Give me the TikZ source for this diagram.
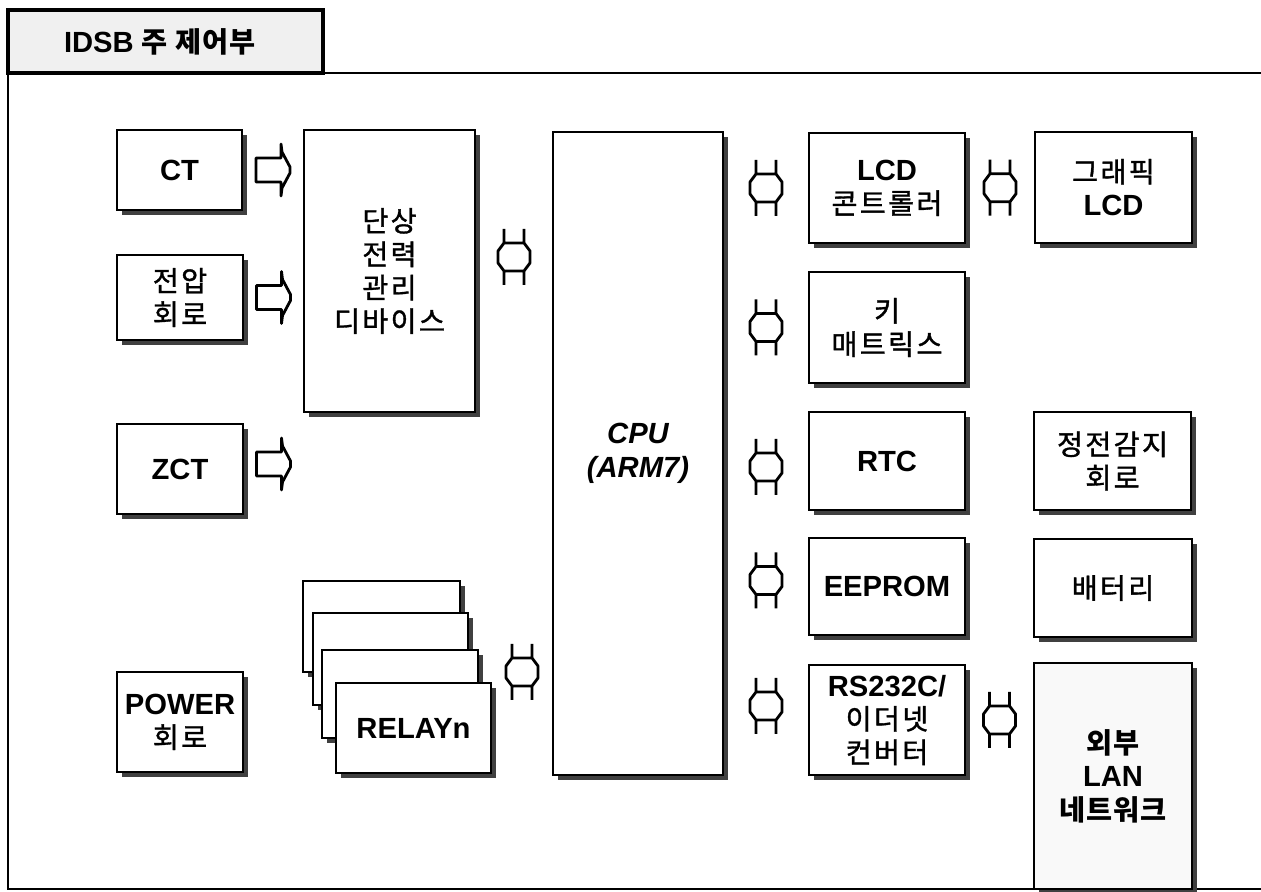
\documentclass[tikz,border=0pt]{standalone}
\usepackage{fontspec}
\setmainfont{Liberation Sans}
\newfontfamily\kr[Scale=0.97,LetterSpace=8,FakeBold=1.2]{Noto Sans CJK KR}
\newfontfamily\krB[Scale=0.97,LetterSpace=4]{Noto Sans CJK KR}
\newcommand\krt[1]{{\kr\mdseries #1}}
\newcommand\krbt[1]{{\krB\bfseries #1}}
\usetikzlibrary{calc,shadows}
\tikzset{
  box/.style={draw,line width=0.7pt,fill=white,align=center,inner sep=0pt,
     font=\fontsize{8.3}{9.5}\selectfont\bfseries,
     drop shadow={shadow xshift=0.05cm,shadow yshift=-0.05cm,opacity=1,fill=black!75}},
  ln/.style={line width=0.8pt,line join=round},
  bidi/.pic={\draw[ln] (-10,-28)--(-10,-14)--(-16,-6)--(-16,6)--(-10,14)--(-10,28)
      (10,-28)--(10,-14)--(16,-6)--(16,6)--(10,14)--(10,28)
      (-10,-14)--(10,-14) (-10,14)--(10,14);},
  harrow/.pic={\draw[ln,fill=white] (-17,-12)--(8,-12)--(8,-26)--(9,-18)--(17,-3)--(17,3)--(9,18)--(8,26)--(8,12)--(-17,12)--cycle;}
}
\begin{document}
\begin{tikzpicture}[x=0.01cm,y=-0.01cm]
\useasboundingbox[fill=white] (0,0) rectangle (1261,892);
% frame
\draw[line width=0.8pt] (323,73)--(1261,73);
\draw[line width=0.8pt] (8,73)--(8,889)--(1261,889);
\draw[line width=1.1pt,fill=gray!12] (8,10) rectangle (323,73);
\node[font=\fontsize{8.3}{9.5}\selectfont\bfseries] (title) at (160,42) {IDSB \krbt{주 제어부}};
% left inputs
\node[box,minimum width=1.25cm,minimum height=0.80cm] (ct) at (179.5,170) {CT};
\node[box,minimum width=1.26cm,minimum height=0.85cm] (volt) at (180,297.5) {\krt{전압}\\\krt{회로}};
\node[box,minimum width=1.26cm,minimum height=0.90cm] (zct) at (180,469) {ZCT};
\node[box,minimum width=1.26cm,minimum height=1.00cm] (power) at (180,722) {POWER\\\krt{회로}};
\node[box,minimum width=1.71cm,minimum height=2.82cm] (dev) at (389.5,271) {\krt{단상}\\\krt{전력}\\\krt{관리}\\\krt{디바이스}};
% relays
\node[box,minimum width=1.57cm,minimum height=0.91cm] (relay1) at (381.5,626.5) {};
\node[box,minimum width=1.55cm,minimum height=0.92cm] (relay2) at (390.5,659) {};
\node[box,minimum width=1.56cm,minimum height=0.88cm] (relay3) at (400,694) {};
\node[box,minimum width=1.55cm,minimum height=0.90cm] (relay4) at (413.5,728) {RELAYn};
% cpu
\node[box,minimum width=1.70cm,minimum height=6.43cm] (cpu) at (638,453.5) {\itshape CPU\\\itshape (ARM7)};
% right column
\node[box,minimum width=1.56cm,minimum height=1.10cm] (lcdc) at (887,188) {LCD\\\krt{콘트롤러}};
\node[box,minimum width=1.56cm,minimum height=1.11cm] (key) at (887,327.5) {\krt{키}\\\krt{매트릭스}};
\node[box,minimum width=1.56cm,minimum height=0.98cm] (rtc) at (887,461) {RTC};
\node[box,minimum width=1.56cm,minimum height=0.97cm] (eeprom) at (887,586.5) {EEPROM};
\node[box,minimum width=1.56cm,minimum height=1.10cm] (rs) at (887,720) {RS232C/\\\krt{이더넷}\\\krt{컨버터}};
\node[box,minimum width=1.57cm,minimum height=1.11cm] (glcd) at (1113.5,187.5) {\krt{그래픽}\\LCD};
\node[box,minimum width=1.57cm,minimum height=0.98cm] (pfail) at (1112.5,461) {\krt{정전감지}\\\krt{회로}};
\node[box,minimum width=1.58cm,minimum height=0.98cm] (batt) at (1113,588) {\krt{배터리}};
\node[box,fill=gray!5,minimum width=1.58cm,minimum height=2.26cm] (lan) at (1113,776) {\krbt{외부}\\LAN\\\krbt{네트워크}};
% arrows
\pic at ($(ct.east)!0.5!(dev.west |- ct.east)$) {harrow};
\pic at ($(volt.east)!0.5!(dev.west |- volt.east)$) {harrow};
\pic at ($(zct.east)!0.5!(dev.west |- zct.east)+(0,-5)$) {harrow};
\pic at ($(dev.east)!0.5!(cpu.west |- dev.east)+(0,-14)$) {bidi};
\pic at ($(relay4.east)!0.5!(cpu.west |- relay4.east)+(0,-56)$) {bidi};
\pic at ($(cpu.east |- lcdc.west)!0.5!(lcdc.west)$) {bidi};
\pic at ($(cpu.east |- key.west)!0.5!(key.west)$) {bidi};
\pic at ($(cpu.east |- rtc.west)!0.5!(rtc.west)+(0,6)$) {bidi};
\pic at ($(cpu.east |- eeprom.west)!0.5!(eeprom.west)+(0,-6)$) {bidi};
\pic at ($(cpu.east |- rs.west)!0.5!(rs.west)+(0,-14)$) {bidi};
\pic at ($(lcdc.east)!0.5!(glcd.west)$) {bidi};
\pic at ($(rs.east)!0.5!(lan.west |- rs.east)$) {bidi};
\end{tikzpicture}
\end{document}
